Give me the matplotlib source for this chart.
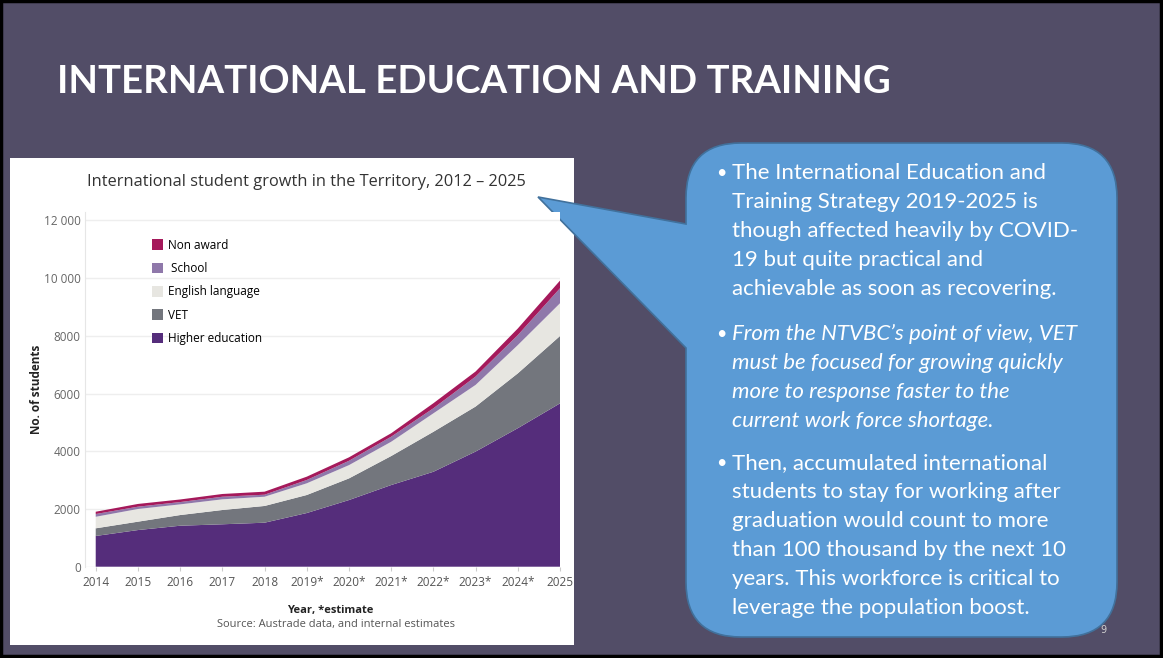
import matplotlib.pyplot as plt
from matplotlib.patches import Rectangle, PathPatch, Patch
from matplotlib.path import Path

# data
years = ["2014", "2015", "2016", "2017", "2018", "2019*", "2020*",
         "2021*", "2022*", "2023*", "2024*", "2025"]
higher_ed = [1065, 1270, 1420, 1470, 1525, 1860, 2310, 2830, 3290, 3990, 4800, 5660]
vet = [265, 290, 370, 495, 580, 625, 750, 1005, 1385, 1560, 1900, 2335]
english = [400, 440, 370, 370, 320, 405, 460, 495, 640, 750, 980, 1135]
school = [95, 80, 80, 90, 70, 115, 150, 175, 175, 290, 345, 520]
non_award = [80, 95, 90, 95, 105, 115, 120, 120, 175, 175, 230, 265]

series_names = ["Higher education", "VET", "English language", " School", "Non award"]
series_colors = ["#552d7b", "#73767d", "#e7e6e1", "#8f78aa", "#a5195b"]

ytick_vals = [0, 2000, 4000, 6000, 8000, 10000, 12000]
ytick_text = ["0", "2000", "4000", "6000", "8000", "10 000", "12 000"]

bullets = [
    (["The International Education and", "Training Strategy 2019-2025 is",
      "though affected heavily by COVID-", "19 but quite practical and",
      "achievable as soon as recovering."], "normal", 173),
    (["From the NTVBC\u2019s point of view, VET", "must be focused for growing quickly",
      "more to response faster to the", "current work force shortage."], "italic", 334),
    (["Then, accumulated international", "students to stay for working after",
      "graduation would count to more", "than 100 thousand by the next 10",
      "years. This workforce is critical to", "leverage the population boost."], "normal", 463),
]

W, H = 1163, 658
fig = plt.figure(figsize=(W / 100, H / 100), dpi=100)
fig.patch.set_facecolor("#524d67")

# slide layer in pixel coordinates
bg = fig.add_axes([0, 0, 1, 1])
bg.set_xlim(0, W)
bg.set_ylim(H, 0)
bg.axis("off")
bg.add_patch(Rectangle((1, 1), W - 3, H - 3, fill=False, ec="black", lw=2.5))
bg.text(57, 93, "INTERNATIONAL EDUCATION AND TRAINING", color="white", fontsize=27.6,
        fontweight="bold", family="Lato", va="baseline")

# white panel behind the chart
bg.add_patch(Rectangle((10, 158), 564, 487, fc="white", ec="none"))
bg.text(306, 182, "International student growth in the Territory, 2012 \u2013 2025",
        ha="center", va="center", fontsize=11.8, color="#333333", family="Open Sans")
bg.text(330, 610, "Year, *estimate", ha="center", va="center", fontsize=8,
        fontweight="bold", color="#222222", family="Open Sans")
bg.text(336, 624, "Source: Austrade data, and internal estimates", ha="center", va="center",
        fontsize=8, color="#555555", family="Open Sans")

# callout box with pointer
x0, x1, y0, y1, r = 686, 1117, 143, 637, 55
tip = (538, 197)
verts = [(x0 + r, y0), (x1 - r, y0), (x1, y0), (x1, y0 + r), (x1, y1 - r), (x1, y1),
         (x1 - r, y1), (x0 + r, y1), (x0, y1), (x0, y1 - r), (x0, 348), tip, (x0, 224),
         (x0, y0 + r), (x0, y0), (x0 + r, y0), (x0 + r, y0)]
codes = [Path.MOVETO, Path.LINETO, Path.CURVE3, Path.CURVE3, Path.LINETO, Path.CURVE3,
         Path.CURVE3, Path.LINETO, Path.CURVE3, Path.CURVE3, Path.LINETO, Path.LINETO,
         Path.LINETO, Path.LINETO, Path.CURVE3, Path.CURVE3, Path.CLOSEPOLY]
bg.add_patch(PathPatch(Path(verts, codes), fc="#5b9bd5", ec="#41719c", lw=1.2))

for lines, style, ytop in bullets:
    bg.text(716, ytop, "\u2022", color="white", fontsize=13, va="center", family="Lato")
    for i, line in enumerate(lines):
        bg.text(732, ytop + i * 29, line, color="white", fontsize=16, style=style,
                va="center", family="Lato")
bg.text(1103, 630, "9", color="#d0d0d0", fontsize=7, ha="center", va="center")

# the chart
ax = fig.add_axes([85 / W, 1 - 566.7 / H, (560 - 85) / W, (566.7 - 211.8) / H])
x = list(range(len(years)))
ax.stackplot(x, higher_ed, vet, english, school, non_award, colors=series_colors,
             linewidth=0)
ax.set_xlim(-0.254, 11)
ax.set_ylim(0, 12300)
ax.set_xticks(x)
ax.set_xticklabels(years, fontsize=8.5, color="#555555", family="Open Sans")
ax.set_yticks(ytick_vals)
ax.set_yticklabels(ytick_text, fontsize=8.5, color="#666666", family="Open Sans")
ax.tick_params(axis="x", length=3, color="#cccccc", pad=4)
ax.tick_params(axis="y", length=0, pad=3)
ax.grid(axis="y", color="#eeeeee", lw=1)
ax.set_axisbelow(True)
for side in ["top", "right", "bottom"]:
    ax.spines[side].set_visible(False)
ax.spines["left"].set_color("#e6e6e6")
ax.set_ylabel("No. of students", fontsize=8.5, fontweight="bold", color="#222222",
              family="Open Sans", labelpad=1)

handles = [Patch(fc=c, ec="none") for c in series_colors][::-1]
ax.legend(handles, series_names[::-1], loc="upper left", bbox_to_anchor=(141 / W, 1 - 228 / H),
          bbox_transform=fig.transFigure, frameon=False, handlelength=1.0,
          handleheight=1.0, handletextpad=0.4, labelspacing=0.88,
          prop={"family": "Open Sans", "size": 8.5})

fig.savefig("out.png", dpi=100, facecolor=fig.get_facecolor())
